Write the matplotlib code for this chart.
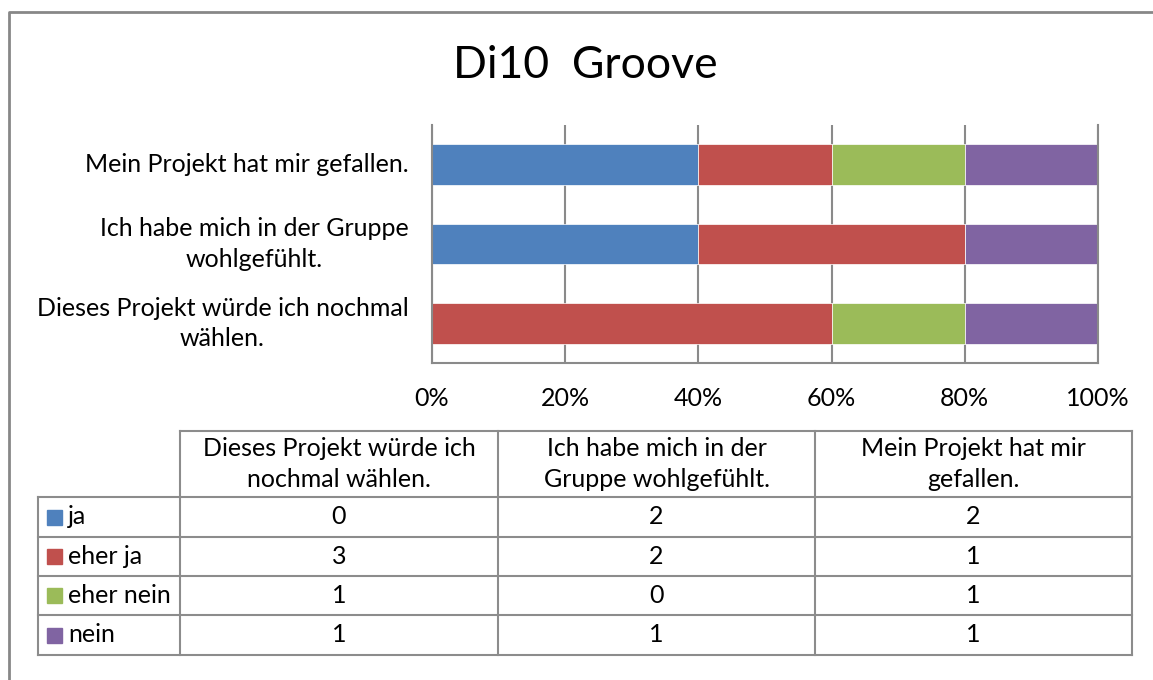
import numpy as np
import matplotlib
matplotlib.use("Agg")
import matplotlib.pyplot as plt

plt.rcParams['font.family'] = ['Lato', 'DejaVu Sans']

# data
title = "Di10  Groove"
categories = ["Dieses Projekt würde ich nochmal wählen.",
              "Ich habe mich in der Gruppe wohlgefühlt.",
              "Mein Projekt hat mir gefallen."]
axis_labels = ["Dieses Projekt würde ich nochmal\nwählen.",
               "Ich habe mich in der Gruppe\nwohlgefühlt.",
               "Mein Projekt hat mir gefallen."]
table_headers = ["Dieses Projekt würde ich\nnochmal wählen.",
                 "Ich habe mich in der\nGruppe wohlgefühlt.",
                 "Mein Projekt hat mir\ngefallen."]
series = ["ja", "eher ja", "eher nein", "nein"]
ja = [0, 2, 2]
eher_ja = [3, 2, 1]
eher_nein = [1, 0, 1]
nein = [1, 1, 1]
xticks = [0, 20, 40, 60, 80, 100]
xtick_labels = ["0%", "20%", "40%", "60%", "80%", "100%"]

colors = ["#4F81BD", "#C0504D", "#9BBB59", "#8064A2"]
grid_col = "#8a8a8a"
fs = 18

W, H = 1153, 680
fig = plt.figure(figsize=(W / 100, H / 100), dpi=100)

# overlay in pixel coords for frame, title and table
ov = fig.add_axes([0, 0, 1, 1], zorder=0)
ov.set_xlim(0, W)
ov.set_ylim(H, 0)
ov.axis('off')
ov.plot([9, 9, W], [H, 12, 12], color="#878787", lw=2, solid_capstyle='butt')
ov.text(585, 65, title, ha='center', va='center', fontsize=32)

# bar chart
ax = fig.add_axes([432 / W, 1 - 363 / H, 666 / W, 238 / H], zorder=1)
vals = np.array([ja, eher_ja, eher_nein, nein], dtype=float)
pct = vals / vals.sum(axis=0) * 100
y = np.arange(len(categories))
left = np.zeros(len(categories))
for i, name in enumerate(series):
    ax.barh(y, pct[i], left=left, height=0.51, color=colors[i], label=name,
            zorder=2, edgecolor='white', linewidth=0.5)
    left += pct[i]
ax.set_xlim(0, 100)
ax.set_ylim(-0.5, 2.5)
ax.set_xticks(xticks)
ax.set_xticklabels(xtick_labels, fontsize=fs)
ax.set_yticks(y)
ax.set_yticklabels(axis_labels, fontsize=fs, multialignment='center')
for t in ax.get_yticklabels():
    t.set_linespacing(1.4)
    t.set_va('center')
ax.tick_params(axis='both', length=0)
ax.tick_params(axis='x', pad=17)
ax.tick_params(axis='y', pad=17)
ax.grid(axis='x', color=grid_col, lw=1.5, zorder=1)
ax.spines['top'].set_visible(False)
for s in ['left', 'bottom', 'right']:
    ax.spines[s].set_color(grid_col)
    ax.spines[s].set_linewidth(1.5)

# data table
xs = [38, 180, 498, 815, 1132]
ys = [431, 497, 537, 576, 615, 655]
lc = "#8c8c8c"
ov.plot([xs[1], xs[4]], [ys[0], ys[0]], color=lc, lw=1.5)
for yy in ys[1:]:
    ov.plot([xs[0], xs[4]], [yy, yy], color=lc, lw=1.5)
ov.plot([xs[0], xs[0]], [ys[1], ys[-1]], color=lc, lw=1.5)
for xx in xs[1:]:
    ov.plot([xx, xx], [ys[0], ys[-1]], color=lc, lw=1.5)
for j, h in enumerate(table_headers):
    ov.text((xs[j + 1] + xs[j + 2]) / 2, (ys[0] + ys[1]) / 2, h,
            ha='center', va='center', fontsize=fs, multialignment='center',
            linespacing=1.45)
for i, name in enumerate(series):
    yc = (ys[i + 1] + ys[i + 2]) / 2
    ov.add_patch(plt.Rectangle((47, yc - 7.5), 15, 15, color=colors[i]))
    ov.text(68, yc, name, ha='left', va='center', fontsize=fs)
    for j in range(len(categories)):
        ov.text((xs[j + 1] + xs[j + 2]) / 2, yc, str(int(vals[i, j])),
                ha='center', va='center', fontsize=fs)

fig.savefig("out.png", dpi=100)
